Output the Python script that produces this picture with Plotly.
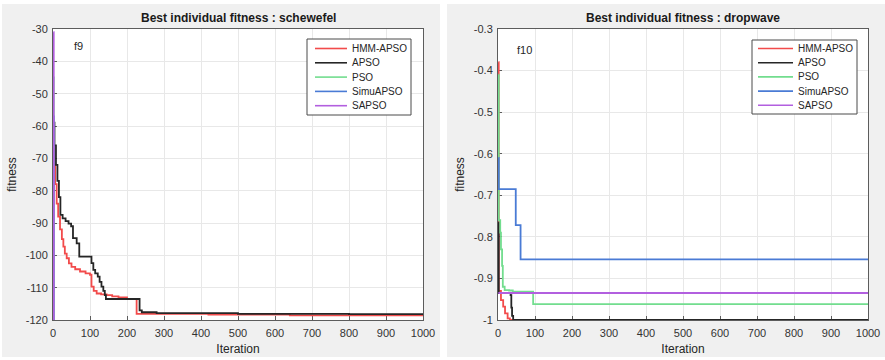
import plotly.graph_objects as go

# ---------------------------------------------------------------------------
# Data: best-so-far fitness per iteration (step points, held until next point)
# ---------------------------------------------------------------------------
series_names = ["HMM-APSO", "APSO", "PSO", "SimuAPSO", "SAPSO"]
series_colors = ["#f24b4b", "#262626", "#72dd8e", "#4a7bd5", "#b25fdf"]

# f9 : schewefel
f9_hmm_it = [1, 3, 6, 10, 14, 19, 24, 28, 32, 37, 43, 50, 60, 73, 88, 100, 104, 110,
             118, 130, 145, 160, 177, 200, 226, 420, 640, 1000]
f9_hmm_val = [-67, -72, -78, -84, -88, -92, -95, -97.3, -99.5, -100.9, -102.5, -103.6,
              -104.3, -105, -105.6, -106, -109.7, -111, -111.8, -112.1, -112.3, -112.7,
              -113, -113.5, -118.1, -118.3, -118.6, -118.7]
f9_apso_it = [1, 4, 8, 12, 16, 20, 26, 34, 42, 49, 54, 64, 71, 104, 109, 114, 121, 126,
              131, 136, 140, 143, 234, 240, 280, 500, 800, 1000]
f9_apso_val = [-59, -66, -72, -77, -82, -87.5, -88.6, -89.4, -90.2, -91, -94.7, -96.3,
               -100.4, -102.4, -104.5, -105.6, -106.6, -108.2, -109.7, -111, -112.3,
               -113.5, -117.0, -117.6, -117.9, -118.1, -118.2, -118.3]
f9_pso_it = [1, 2, 1000]
f9_pso_val = [-45, -121, -121]
f9_simu_it = [1, 2, 1000]
f9_simu_val = [-57, -121, -121]
f9_sapso_it = [1, 2, 1000]
f9_sapso_val = [-31, -121, -121]

# f10 : dropwave
f10_hmm_it = [1, 2, 8, 14, 19, 26, 32, 1000]
f10_hmm_val = [-0.38, -0.93, -0.952, -0.968, -0.984, -0.996, -1.0, -1.0]
f10_apso_it = [1, 2, 34, 36, 38, 41, 1000]
f10_apso_val = [-0.765, -0.935, -0.94, -0.97, -0.99, -1.0, -1.0]
f10_pso_it = [1, 2, 6, 8, 11, 13, 18, 30, 40, 95, 1000]
f10_pso_val = [-0.41, -0.76, -0.79, -0.83, -0.87, -0.92, -0.928, -0.929, -0.932,
               -0.962, -0.962]
f10_simu_it = [1, 2, 48, 61, 1000]
f10_simu_val = [-0.61, -0.685, -0.772, -0.854, -0.854]
f10_sapso_it = [1, 1000]
f10_sapso_val = [-0.935, -0.935]

# Axis ticks
x_tick_vals = [0, 100, 200, 300, 400, 500, 600, 700, 800, 900, 1000]
x_tick_text = ["0", "100", "200", "300", "400", "500", "600", "700", "800", "900", "1000"]
f9_y_tick_vals = [-120, -110, -100, -90, -80, -70, -60, -50, -40, -30]
f9_y_tick_text = ["-120", "-110", "-100", "-90", "-80", "-70", "-60", "-50", "-40", "-30"]
f10_y_tick_vals = [-1, -0.9, -0.8, -0.7, -0.6, -0.5, -0.4, -0.3]
f10_y_tick_text = ["-1", "-0.9", "-0.8", "-0.7", "-0.6", "-0.5", "-0.4", "-0.3"]

panel_titles = ["Best individual fitness : schewefel", "Best individual fitness : dropwave"]
panel_tags = ["f9", "f10"]

# ---------------------------------------------------------------------------
W, H = 885, 360
FONT = "Liberation Sans, Arial, Helvetica, sans-serif"


def px(x):
    return x / W


def py(y):
    return 1 - y / H


fig = go.Figure()

f9_series = [(f9_hmm_it, f9_hmm_val), (f9_apso_it, f9_apso_val), (f9_pso_it, f9_pso_val),
             (f9_simu_it, f9_simu_val), (f9_sapso_it, f9_sapso_val)]
f10_series = [(f10_hmm_it, f10_hmm_val), (f10_apso_it, f10_apso_val),
              (f10_pso_it, f10_pso_val), (f10_simu_it, f10_simu_val),
              (f10_sapso_it, f10_sapso_val)]

for (xa, ya), group in (("x", "y"), f9_series), (("x2", "y2"), f10_series):
    for name, color, (its, vals) in zip(series_names, series_colors, group):
        fig.add_trace(go.Scatter(
            x=its, y=vals, name=name, mode="lines", line_shape="hv",
            line=dict(color=color, width=1.8), xaxis=xa, yaxis=ya,
            showlegend=False, hoverinfo="x+y+name"))

axis_common = dict(
    showgrid=True, gridcolor="#e8e8e8", gridwidth=1,
    showline=True, linecolor="#5c5c5c", linewidth=1, mirror=True,
    ticks="inside", ticklen=4, tickcolor="#5c5c5c",
    tickfont=dict(family=FONT, size=11, color="#333333"),
    zeroline=False, fixedrange=True, layer="below traces",
)
title_font = dict(family=FONT, size=12, color="#262626")

y_dom = [40 / H, 1 - 29 / H]
fig.update_layout(
    xaxis=dict(domain=[px(53), px(423)], range=[0, 1000], tickvals=x_tick_vals,
               ticktext=x_tick_text, anchor="y", ticklabelstandoff=3,
               title=dict(text="Iteration", standoff=6, font=title_font),
               **axis_common),
    yaxis=dict(domain=y_dom, range=[-120, -30], tickvals=f9_y_tick_vals,
               ticktext=f9_y_tick_text, anchor="x", ticklabelstandoff=2,
               title=dict(text="fitness", standoff=6, font=title_font),
               **axis_common),
    xaxis2=dict(domain=[px(498), px(868)], range=[0, 1000], tickvals=x_tick_vals,
                ticktext=x_tick_text, anchor="y2", ticklabelstandoff=3,
                title=dict(text="Iteration", standoff=6, font=title_font),
                **axis_common),
    yaxis2=dict(domain=y_dom, range=[-1, -0.3], tickvals=f10_y_tick_vals,
                ticktext=f10_y_tick_text, anchor="x2", ticklabelstandoff=2,
                title=dict(text="fitness", standoff=6, font=title_font),
                **axis_common),
    width=W, height=H, margin=dict(l=0, r=0, t=0, b=0, autoexpand=False),
    paper_bgcolor="white", plot_bgcolor="white",
    font=dict(family=FONT, color="#262626"),
    showlegend=False,
)

shapes = []
annotations = []

# grey figure panels, with white axes areas on top of them
for x0, x1 in ((2, 440), (447, 885)):
    shapes.append(dict(type="rect", xref="paper", yref="paper", x0=px(x0), x1=px(x1),
                       y0=py(357), y1=py(4), fillcolor="#f0f0f0", line=dict(width=0),
                       layer="below"))
for xa, ya in (("x", "y"), ("x2", "y2")):
    shapes.append(dict(type="rect", xref=f"{xa} domain", yref=f"{ya} domain", x0=0, x1=1,
                       y0=0, y1=1, fillcolor="white", line=dict(width=0), layer="below"))

# titles and function tags
for title, cx in zip(panel_titles, (238, 683)):
    annotations.append(dict(text=f"<b>{title}</b>", x=px(cx), y=py(18), xref="paper",
                            yref="paper", showarrow=False, xanchor="center",
                            yanchor="middle", font=dict(family=FONT, size=12,
                                                        color="#1a1a1a")))
for tag, tx, ty in zip(panel_tags, (72, 515), (46, 50)):
    annotations.append(dict(text=tag, x=px(tx), y=py(ty), xref="paper", yref="paper",
                            showarrow=False, xanchor="left", yanchor="middle",
                            font=dict(family=FONT, size=11, color="#262626")))


# legend boxes
def add_legend(bx0, by0, bx1, by1, lx0, lx1, tx, row0, step):
    shapes.append(dict(type="rect", xref="paper", yref="paper", x0=px(bx0), x1=px(bx1),
                       y0=py(by1), y1=py(by0), fillcolor="white",
                       line=dict(color="#4a4a4a", width=1), layer="above"))
    for i, (name, color) in enumerate(zip(series_names, series_colors)):
        yy = row0 + step * i
        shapes.append(dict(type="line", xref="paper", yref="paper", x0=px(lx0),
                           x1=px(lx1), y0=py(yy), y1=py(yy),
                           line=dict(color=color, width=1.6), layer="above"))
        annotations.append(dict(text=name, x=px(tx), y=py(yy), xref="paper",
                                yref="paper", showarrow=False, xanchor="left",
                                yanchor="middle",
                                font=dict(family=FONT, size=10, color="#262626")))


add_legend(307, 39, 411, 115, 315, 347, 350, 48.5, 14.3)
add_legend(752, 40, 857, 114, 758, 793, 796, 48.5, 14.2)

fig.update_layout(shapes=shapes, annotations=annotations)

fig.write_html("out.html")
